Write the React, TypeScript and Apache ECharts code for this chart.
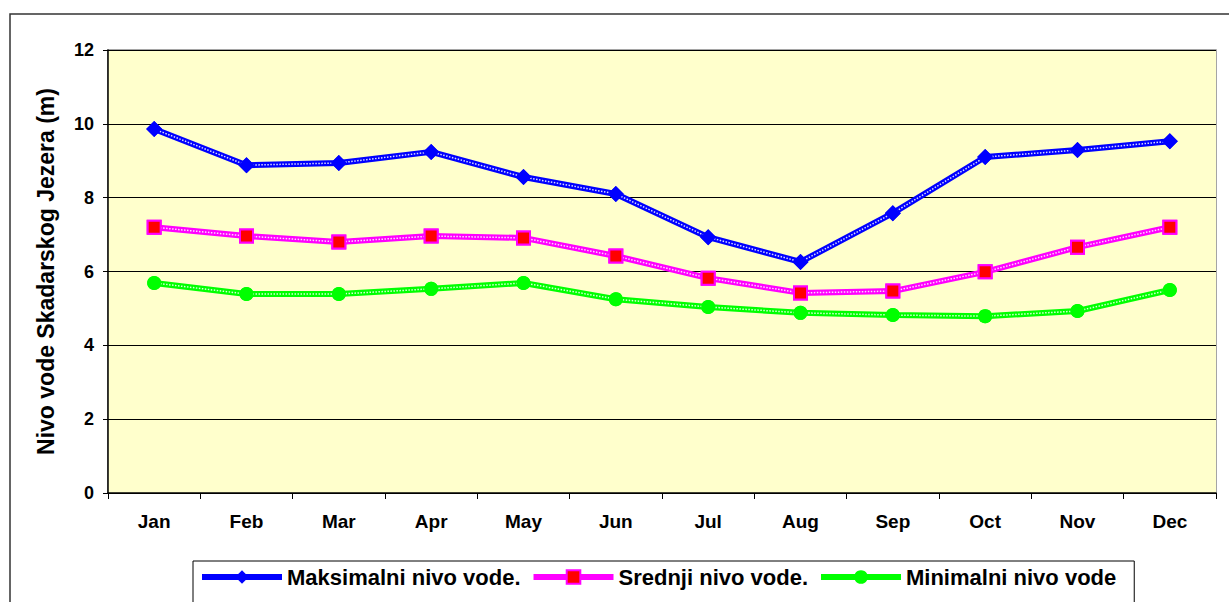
import React, { useEffect, useRef } from "react";
import * as echarts from "echarts";

const months = ["Jan", "Feb", "Mar", "Apr", "May", "Jun", "Jul", "Aug", "Sep", "Oct", "Nov", "Dec"];
const maxLevel = [9.86, 8.88, 8.94, 9.24, 8.56, 8.1, 6.93, 6.26, 7.58, 9.1, 9.29, 9.53];
const meanLevel = [7.2, 6.96, 6.8, 6.96, 6.91, 6.42, 5.82, 5.42, 5.47, 5.99, 6.66, 7.2];
const minLevel = [5.69, 5.39, 5.39, 5.53, 5.69, 5.25, 5.04, 4.88, 4.82, 4.79, 4.93, 5.5];
const seriesNames = ["Maksimalni nivo vode.", "Srednji nivo vode.", "Minimalni nivo vode"];
const yTitle = "Nivo vode Skadarskog Jezera (m)";

const FONT = "Liberation Sans, Arial, sans-serif";

export default function App() {
  const ref = useRef<HTMLDivElement>(null);
  useEffect(() => {
    if (!ref.current) return;
    const chart = echarts.init(ref.current, undefined, { renderer: "svg" });
    const defs = [
      { name: seriesNames[0], data: maxLevel, color: "#0000ff", symbol: "diamond", size: 16, fill: "#0000ff", border: "#0000ff", bw: 0 },
      { name: seriesNames[1], data: meanLevel, color: "#ff00ff", symbol: "rect", size: 13, fill: "#ff0000", border: "#ff00ff", bw: 2 },
      { name: seriesNames[2], data: minLevel, color: "#00ff00", symbol: "circle", size: 14, fill: "#00ff00", border: "#00ff00", bw: 0 },
    ];
    const series: any[] = [];
    defs.forEach((d) => {
      series.push({
        name: d.name,
        type: "line",
        data: d.data,
        z: 2,
        symbol: d.symbol,
        symbolSize: d.size,
        lineStyle: { color: d.color, width: 6 },
        itemStyle: { color: d.fill, borderColor: d.border, borderWidth: d.bw },
      });
      series.push({
        name: d.name + "_dots",
        type: "line",
        data: d.data,
        z: 3,
        symbol: "none",
        silent: true,
        lineStyle: { color: "#ffffff", width: 1.5, type: [1.5, 1.5], opacity: 0.85 },
      });
      series.push({
        name: d.name + "_marks",
        type: "line",
        data: d.data,
        z: 4,
        symbol: d.symbol,
        symbolSize: d.size,
        silent: true,
        lineStyle: { opacity: 0 },
        itemStyle: { color: d.fill, borderColor: d.border, borderWidth: d.bw },
      });
    });
    chart.setOption({
      animation: false,
      backgroundColor: "#ffffff",
      textStyle: { fontFamily: FONT },
      graphic: [
        {
          type: "rect",
          shape: { x: 10, y: 14, width: 1240, height: 620 },
          style: { fill: "none", stroke: "#333333", lineWidth: 1.5 },
          silent: true,
          z: -1,
        },
        {
          type: "rect",
          shape: { x: 108, y: 50, width: 1108, height: 443 },
          style: { fill: "none", stroke: "#888888", lineWidth: 1.5 },
          silent: true,
          z: -1,
        },
      ],
      grid: {
        left: 108,
        top: 50,
        right: 13,
        bottom: 109,
        show: true,
        backgroundColor: "#ffffcc",
        borderWidth: 0,
      },
      legend: {
        data: seriesNames,
        left: 193,
        top: 561,
        itemWidth: 80,
        itemHeight: 17,
        itemGap: 10,
        padding: [5, 18, 30, 6],
        borderColor: "#000000",
        borderWidth: 1,
        lineStyle: { width: 6 },
        textStyle: { fontFamily: FONT, fontSize: 22, fontWeight: "bold", color: "#000" },
      },
      xAxis: {
        type: "category",
        data: months,
        boundaryGap: true,
        axisLine: { lineStyle: { color: "#000", width: 1.5 } },
        axisTick: { show: true, length: 6, lineStyle: { color: "#000" } },
        axisLabel: { fontFamily: FONT, fontSize: 19, fontWeight: "bold", color: "#000", margin: 19 },
      },
      yAxis: {
        type: "value",
        min: 0,
        max: 12,
        interval: 2,
        name: yTitle,
        nameLocation: "middle",
        nameGap: 51,
        nameTextStyle: { fontFamily: FONT, fontSize: 23, fontWeight: "bold", color: "#000" },
        axisLine: { show: true, lineStyle: { color: "#000", width: 1.5 } },
        axisTick: { show: true, length: 5, lineStyle: { color: "#000" } },
        axisLabel: { fontFamily: FONT, fontSize: 18, fontWeight: "bold", color: "#000", margin: 14 },
        splitLine: { lineStyle: { color: "#000", width: 1 } },
      },
      series,
    });
    return () => chart.dispose();
  }, []);
  return (
    <div
      ref={ref}
      style={{ position: "fixed", left: 0, top: 0, width: 1229, height: 602 }}
    />
  );
}
